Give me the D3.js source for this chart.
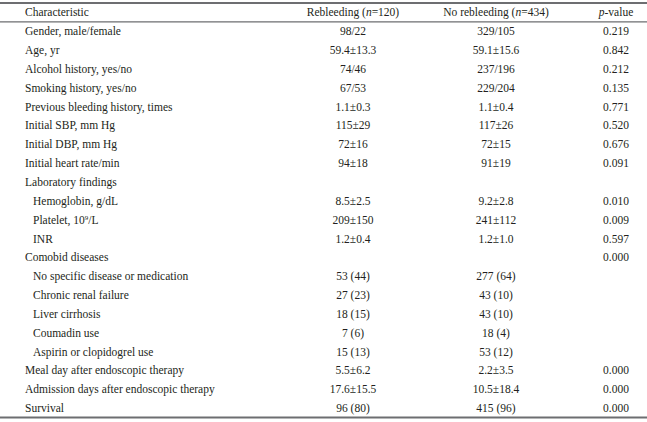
<!DOCTYPE html>
<html>
<head>
<meta charset="utf-8">
<script src="https://cdn.jsdelivr.net/npm/d3@7"></script>
<style>
  body { margin: 0; background: #fff; }
  text { font-family: "Liberation Serif", "Times New Roman", serif; font-size: 11.5px; fill: #231f20; }
</style>
</head>
<body>
<div id="table"></div>
<script>
var headers = ["Characteristic", "Rebleeding (n=120)", "No rebleeding (n=434)", "p-value"];

var characteristics = [
  "Gender, male/female", "Age, yr", "Alcohol history, yes/no", "Smoking history, yes/no",
  "Previous bleeding history, times", "Initial SBP, mm Hg", "Initial DBP, mm Hg",
  "Initial heart rate/min", "Laboratory findings", "Hemoglobin, g/dL", "Platelet, 10^9/L",
  "INR", "Comobid diseases", "No specific disease or medication", "Chronic renal failure",
  "Liver cirrhosis", "Coumadin use", "Aspirin or clopidogrel use",
  "Meal day after endoscopic therapy", "Admission days after endoscopic therapy", "Survival"
];

var indented = [0,0,0,0,0,0,0,0,0,1,1,1,0,1,1,1,1,1,0,0,0];

var rebleeding = [
  "98/22", "59.4±13.3", "74/46", "67/53", "1.1±0.3", "115±29", "72±16", "94±18", "",
  "8.5±2.5", "209±150", "1.2±0.4", "", "53 (44)", "27 (23)", "18 (15)", "7 (6)", "15 (13)",
  "5.5±6.2", "17.6±15.5", "96 (80)"
];

var noRebleeding = [
  "329/105", "59.1±15.6", "237/196", "229/204", "1.1±0.4", "117±26", "72±15", "91±19", "",
  "9.2±2.8", "241±112", "1.2±1.0", "", "277 (64)", "43 (10)", "43 (10)", "18 (4)", "53 (12)",
  "2.2±3.5", "10.5±18.4", "415 (96)"
];

var pValues = [
  "0.219", "0.842", "0.212", "0.135", "0.771", "0.520", "0.676", "0.091", "",
  "0.010", "0.009", "0.597", "0.000", "", "", "", "", "",
  "0.000", "0.000", "0.000"
];

var width = 647, height = 422;

var svg = d3.select("#table").append("svg")
  .attr("width", width)
  .attr("height", height);

var y = d3.scaleBand()
  .domain(d3.range(characteristics.length + 1))
  .range([3, 417.5]);

// column centres for value columns
var x = d3.scaleOrdinal()
  .domain(["rebleeding", "noRebleeding", "p"])
  .range([353, 496, 616]);

var leftX = 25, indentX = 33;

// rules
var rules = [y(0), y(1), y.range()[1]];
svg.selectAll("line.rule")
  .data(rules)
  .enter().append("line")
  .attr("class", "rule")
  .attr("x1", 0).attr("x2", width)
  .attr("y1", d => d).attr("y2", d => d)
  .attr("stroke", "#6d6e71")
  .attr("stroke-width", (d, i) => i == 1 ? 1.3 : 1.8);

var mid = i => y(i) + y.bandwidth() / 2;

// header
var head = svg.append("g").attr("class", "header");
head.append("text").attr("x", leftX).attr("y", mid(0)).attr("dy", "0.35em").text(headers[0]);

function italicN(sel, pre, n) {
  sel.append("tspan").text(pre + " (");
  sel.append("tspan").style("font-style", "italic").text("n");
  sel.append("tspan").text("=" + n + ")");
}
italicN(head.append("text").attr("x", x("rebleeding")).attr("y", mid(0)).attr("dy", "0.35em")
  .attr("text-anchor", "middle"), "Rebleeding", 120);
italicN(head.append("text").attr("x", x("noRebleeding")).attr("y", mid(0)).attr("dy", "0.35em")
  .attr("text-anchor", "middle"), "No rebleeding", 434);
var ph = head.append("text").attr("x", x("p")).attr("y", mid(0)).attr("dy", "0.35em")
  .attr("text-anchor", "middle");
ph.append("tspan").style("font-style", "italic").text("p");
ph.append("tspan").text("-value");

// body rows
var rows = svg.selectAll("g.row")
  .data(characteristics)
  .enter().append("g")
  .attr("class", "row")
  .attr("transform", (d, i) => `translate(0,${mid(i + 1)})`);

rows.append("text")
  .attr("x", (d, i) => indented[i] ? indentX : leftX)
  .attr("dy", "0.35em")
  .each(function(d) {
    var t = d3.select(this);
    if (d.indexOf("^") >= 0) {
      var parts = d.split("^");
      t.append("tspan").text(parts[0]);
      t.append("tspan").attr("dy", "-4").style("font-size", "7px").text(parts[1].slice(0, 1));
      t.append("tspan").attr("dy", "4").text(parts[1].slice(1));
    } else {
      t.text(d);
    }
  });

rows.append("text")
  .attr("x", x("rebleeding"))
  .attr("dy", "0.35em")
  .attr("text-anchor", "middle")
  .text((d, i) => rebleeding[i]);

rows.append("text")
  .attr("x", x("noRebleeding"))
  .attr("dy", "0.35em")
  .attr("text-anchor", "middle")
  .text((d, i) => noRebleeding[i]);

rows.append("text")
  .attr("x", x("p"))
  .attr("dy", "0.35em")
  .attr("text-anchor", "middle")
  .text((d, i) => pValues[i]);
</script>
</body>
</html>
